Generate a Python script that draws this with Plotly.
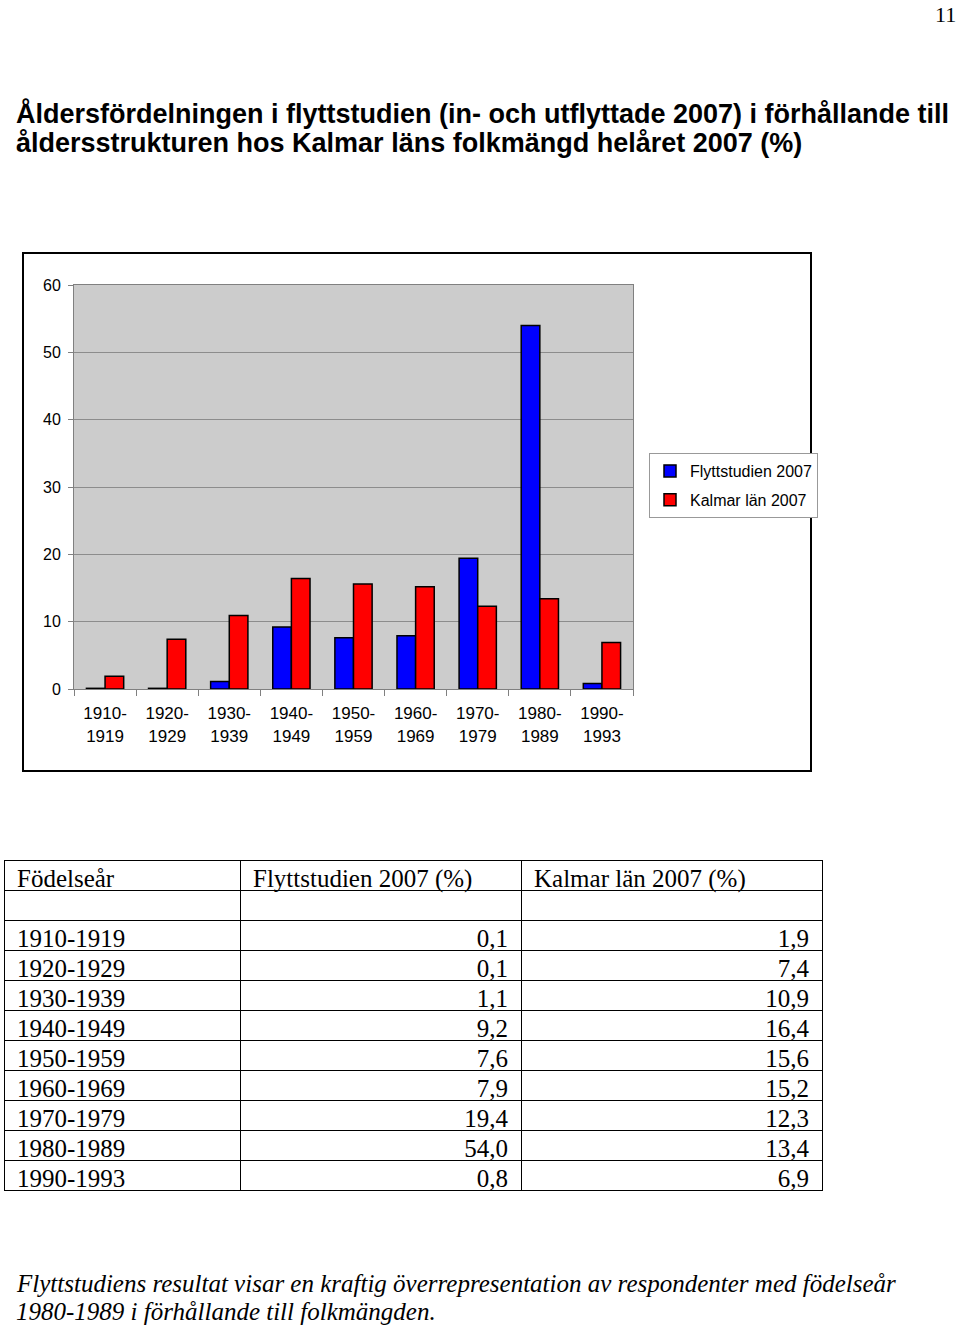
import plotly.graph_objects as go

# ---------------- data ----------------
periods = ["1910-1919", "1920-1929", "1930-1939", "1940-1949", "1950-1959",
           "1960-1969", "1970-1979", "1980-1989", "1990-1993"]
flytt = [0.1, 0.1, 1.1, 9.2, 7.6, 7.9, 19.4, 54.0, 0.8]
kalmar = [1.9, 7.4, 10.9, 16.4, 15.6, 15.2, 12.3, 13.4, 6.9]
series_names = ["Flyttstudien 2007", "Kalmar län 2007"]
table_headers = ["Födelseår", "Flyttstudien 2007 (%)", "Kalmar län 2007 (%)"]
y_ticks = [0, 10, 20, 30, 40, 50, 60]

title_lines = [
    "Åldersfördelningen i flyttstudien (in- och utflyttade 2007) i förhållande till",
    "åldersstrukturen hos Kalmar läns folkmängd helåret 2007 (%)",
]
note_lines = [
    "Flyttstudiens resultat visar en kraftig överrepresentation av respondenter med födelseår",
    "1980-1989 i förhållande till folkmängden.",
]
page_number = "11"

W, H = 960, 1328


def fx(x):
    return x / W


def fy(y):
    return 1 - y / H


SANS = "Liberation Sans, Arial, sans-serif"
SERIF = "Liberation Serif, Times New Roman, serif"
TS = "\u2009"  # thin space used as cell padding

tick_text = [p.replace("-", "-<br>") for p in periods]


def fmt(v):
    return f"{v:.1f}".replace(".", ",") + TS


fig = go.Figure()

fig.add_trace(go.Bar(
    x=periods, y=flytt, name=series_names[0], legendgroup="a",
    marker=dict(color="#0000FF", line=dict(color="black", width=1.5)),
))
fig.add_trace(go.Bar(
    x=periods, y=kalmar, name=series_names[1], legendgroup="b",
    marker=dict(color="#FF0000", line=dict(color="black", width=1.5)),
))

fig.add_trace(go.Table(
    domain=dict(x=[fx(4), fx(822)], y=[fy(1196), fy(860)]),
    columnwidth=[236, 281, 301],
    header=dict(
        values=[TS + h for h in table_headers],
        align="left",
        height=30,
        fill_color="white",
        line=dict(color="black", width=1),
        font=dict(family=SERIF, size=25, color="black"),
    ),
    cells=dict(
        values=[[""] + [TS + p for p in periods],
                [""] + [fmt(v) for v in flytt],
                [""] + [fmt(v) for v in kalmar]],
        align=["left", "right", "right"],
        height=30,
        fill_color="white",
        line=dict(color="black", width=1),
        font=dict(family=SERIF, size=25, color="black"),
    ),
))

annotations = []
for i, line in enumerate(title_lines):
    annotations.append(dict(
        text=f"<b>{line}</b>", xref="paper", yref="paper",
        x=fx(14), y=fy(113 + 30 * i), xanchor="left", yanchor="middle",
        showarrow=False, font=dict(family=SANS, size=27, color="black"),
    ))
for i, line in enumerate(note_lines):
    annotations.append(dict(
        text=f"<i>{line}</i>", xref="paper", yref="paper",
        x=fx(14), y=fy(1283 + 28 * i), xanchor="left", yanchor="middle",
        showarrow=False, font=dict(family=SERIF, size=25, color="black"),
    ))
annotations.append(dict(
    text=page_number, xref="paper", yref="paper",
    x=fx(958), y=fy(14), xanchor="right", yanchor="middle",
    showarrow=False, font=dict(family=SERIF, size=22, color="black"),
))

fig.update_layout(
    width=W, height=H, autosize=False,
    margin=dict(l=0, r=0, t=0, b=0, pad=0, autoexpand=False),
    paper_bgcolor="white",
    plot_bgcolor="#CCCCCC",
    barmode="group", bargap=0.4, bargroupgap=0,
    font=dict(family=SANS, size=16, color="black"),
    showlegend=True,
    legend=dict(
        x=fx(649), y=fy(453), xanchor="left", yanchor="top",
        bgcolor="white", bordercolor="#999999", borderwidth=1,
        font=dict(family=SANS, size=16, color="black"),
        tracegroupgap=5, itemwidth=30,
    ),
    xaxis=dict(
        domain=[fx(74), fx(633)],
        type="category",
        tickvals=periods, ticktext=tick_text,
        ticks="outside", tickson="boundaries", ticklen=6, tickcolor="#808080",
        ticklabelstandoff=9,
        showline=True, linecolor="#808080", linewidth=1, mirror=True,
        showgrid=False, zeroline=False,
        tickfont=dict(family=SANS, size=17, color="black"),
        fixedrange=True, automargin=False,
    ),
    yaxis=dict(
        domain=[fy(689), fy(285)],
        range=[0, 60], tickvals=y_ticks,
        ticks="outside", ticklen=5, tickcolor="#808080",
        ticklabelstandoff=4,
        showline=True, linecolor="#808080", linewidth=1, mirror=True,
        showgrid=True, gridcolor="#8C8C8C", gridwidth=1,
        zeroline=False,
        tickfont=dict(family=SANS, size=16, color="black"),
        fixedrange=True, automargin=False,
    ),
    shapes=[dict(
        type="rect", xref="paper", yref="paper",
        x0=fx(23), x1=fx(811), y0=fy(771), y1=fy(253),
        line=dict(color="black", width=2), fillcolor="rgba(0,0,0,0)",
        layer="below",
    )],
    annotations=annotations,
)

fig.write_html("out.html", config={"displayModeBar": False})
